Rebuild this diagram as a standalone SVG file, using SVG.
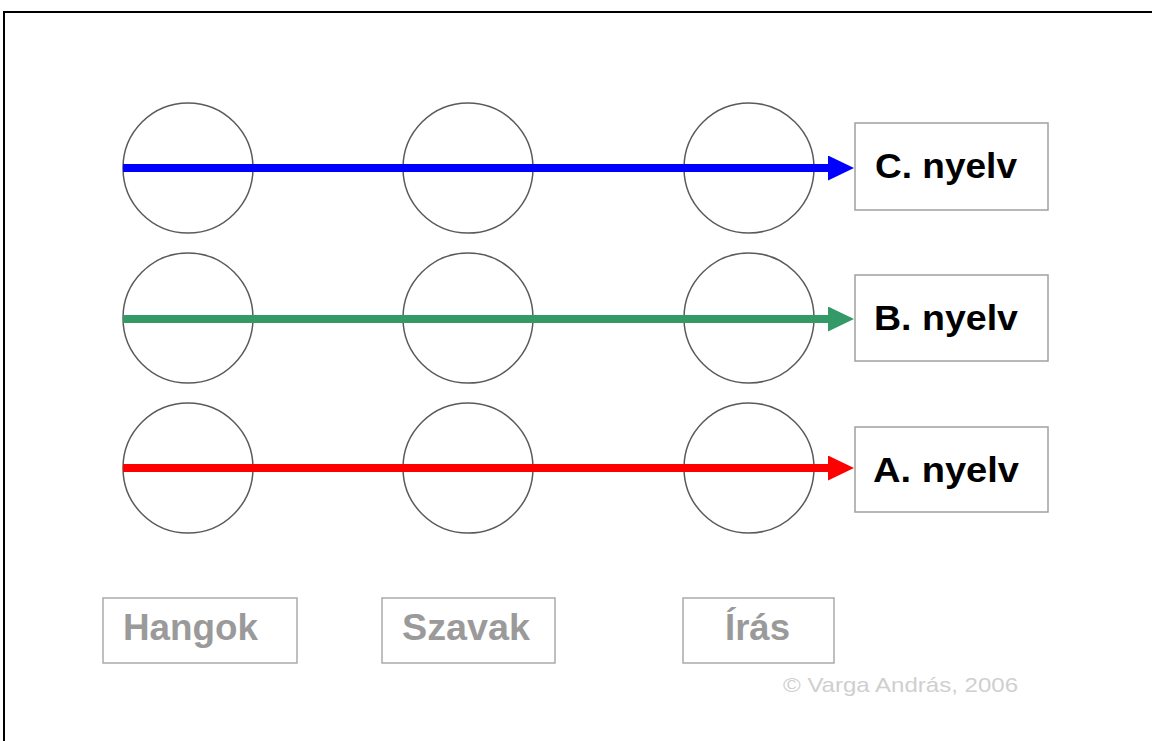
<svg xmlns="http://www.w3.org/2000/svg" width="1152" height="741" viewBox="0 0 1152 741">
  <style>
    .frame { stroke: #000; stroke-width: 2; fill: none; }
    .ring { fill: none; stroke: #5a5a5a; stroke-width: 1.5; }
    .box { fill: #fff; stroke: #a0a0a0; stroke-width: 1.5; }
    .lang { font-family: "Liberation Sans", Arial, sans-serif; font-weight: bold; font-size: 35px; fill: #000; }
    .cat { font-family: "Liberation Sans", Arial, sans-serif; font-weight: bold; font-size: 36px; fill: #9a9a9a; }
    .catbox { fill: #fff; stroke: #aaaaaa; stroke-width: 1.5; }
    .credit { font-family: "Liberation Sans", Arial, sans-serif; font-size: 21px; fill: #cfcfcf; }
    .flow { stroke-width: 8; fill: none; }
  </style>
  <defs>
    <marker id="headBlue" markerUnits="userSpaceOnUse" markerWidth="26" markerHeight="25" refX="2" refY="12.5" orient="auto">
      <path d="M0,0 L26,12.5 L0,25 z" fill="#0000ff"/>
    </marker>
    <marker id="headGreen" markerUnits="userSpaceOnUse" markerWidth="26" markerHeight="25" refX="2" refY="12.5" orient="auto">
      <path d="M0,0 L26,12.5 L0,25 z" fill="#339966"/>
    </marker>
    <marker id="headRed" markerUnits="userSpaceOnUse" markerWidth="26" markerHeight="25" refX="2" refY="12.5" orient="auto">
      <path d="M0,0 L26,12.5 L0,25 z" fill="#ff0000"/>
    </marker>
  </defs>

  <rect width="1152" height="741" fill="#fff"/>
  <!-- page frame: top and left edges only -->
  <path class="frame" d="M4,741 L4,12 L1152,12"/>

  <!-- stage circles: sounds, words, writing for each language row -->
  <g id="circles">
    <circle class="ring" cx="188" cy="168" r="65"/>
    <circle class="ring" cx="468" cy="168" r="65"/>
    <circle class="ring" cx="749" cy="168" r="65"/>
    <circle class="ring" cx="188" cy="318" r="65"/>
    <circle class="ring" cx="468" cy="318" r="65"/>
    <circle class="ring" cx="749" cy="318" r="65"/>
    <circle class="ring" cx="188" cy="468" r="65"/>
    <circle class="ring" cx="468" cy="468" r="65"/>
    <circle class="ring" cx="749" cy="468" r="65"/>
  </g>

  <g id="connectors">
    <line class="flow" x1="123" y1="168" x2="830" y2="168" stroke="#0000ff" marker-end="url(#headBlue)"/>
    <line class="flow" x1="123" y1="319" x2="830" y2="319" stroke="#339966" marker-end="url(#headGreen)"/>
    <line class="flow" x1="123" y1="468" x2="830" y2="468" stroke="#ff0000" marker-end="url(#headRed)"/>
  </g>

  <g id="lang-c">
    <rect class="box" x="855" y="123" width="193" height="87"/>
    <text class="lang" x="875" y="178" textLength="142" lengthAdjust="spacingAndGlyphs">C. nyelv</text>
  </g>
  <g id="lang-b">
    <rect class="box" x="855" y="275" width="193" height="86"/>
    <text class="lang" x="874" y="330" textLength="144" lengthAdjust="spacingAndGlyphs">B. nyelv</text>
  </g>
  <g id="lang-a">
    <rect class="box" x="855" y="427" width="193" height="85"/>
    <text class="lang" x="873" y="482" textLength="146" lengthAdjust="spacingAndGlyphs">A. nyelv</text>
  </g>

  <g id="cat-hangok">
    <rect class="catbox" x="103" y="598" width="194" height="65"/>
    <text class="cat" x="123" y="640" textLength="135" lengthAdjust="spacingAndGlyphs">Hangok</text>
  </g>
  <g id="cat-szavak">
    <rect class="catbox" x="382" y="598" width="173" height="65"/>
    <text class="cat" x="402" y="640" textLength="128" lengthAdjust="spacingAndGlyphs">Szavak</text>
  </g>
  <g id="cat-iras">
    <rect class="catbox" x="683" y="598" width="151" height="65"/>
    <text class="cat" x="725" y="640" textLength="65" lengthAdjust="spacingAndGlyphs">Írás</text>
  </g>

  <text class="credit" x="783" y="692" textLength="235" lengthAdjust="spacingAndGlyphs">© Varga András, 2006</text>
</svg>
